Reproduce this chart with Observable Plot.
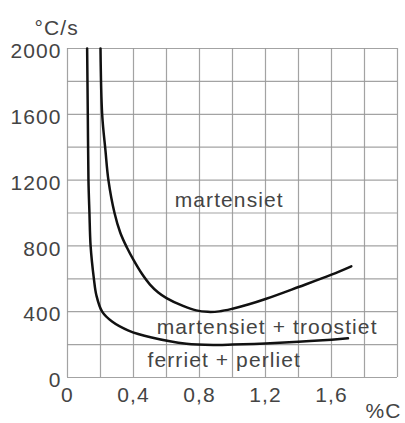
<!DOCTYPE html>
<html>
<head>
<meta charset="utf-8">
<script src="https://cdn.jsdelivr.net/npm/d3@7"></script>
<script src="https://cdn.jsdelivr.net/npm/@observablehq/plot@0.6"></script>
<style>
  html, body { margin: 0; padding: 0; background: #fff; }
  svg text { letter-spacing: 1.1px; }
</style>
</head>
<body>
<div id="chart"></div>
<script>
// Lower boundary: ferriet + perliet / martensiet + troostiet
const lowerC    = [0.119, 0.123, 0.127, 0.133, 0.14, 0.16, 0.175, 0.21, 0.27, 0.37, 0.51, 0.72, 0.9, 1.0, 1.2, 1.4, 1.6, 1.7];
const lowerRate = [2000, 1600, 1200, 1000, 800, 600, 500, 400, 340, 285, 243, 205, 198, 200, 207, 217, 230, 238];

// Upper boundary: martensiet + troostiet / martensiet
const upperC    = [0.2, 0.21, 0.23, 0.248, 0.285, 0.32, 0.36, 0.4, 0.45, 0.5, 0.55, 0.6, 0.7, 0.78, 0.85, 0.92, 1.0, 1.1, 1.2, 1.4, 1.6, 1.72];
const upperRate = [2000, 1600, 1380, 1200, 1000, 880, 790, 715, 632, 565, 517, 483, 435, 408, 399, 402, 418, 445, 477, 550, 625, 676];

// Region labels
const regionNames = ["martensiet", "martensiet + troostiet", "ferriet + perliet"];
const regionC     = [0.98, 1.21, 0.95];
const regionRate  = [1076, 304, 103];

const xTicks = [0, 0.4, 0.8, 1.2, 1.6];
const yTicks = [0, 400, 800, 1200, 1600, 2000];
const xGrid = d3.range(0, 2.0001, 0.2);
const yGrid = d3.range(0, 2001, 200);
const yTitle = "°C/s";
const xTitle = "%C";

const lower = lowerC.map((c, i) => ({c, r: lowerRate[i]}));
const upper = upperC.map((c, i) => ({c, r: upperRate[i]}));
const regions = regionNames.map((name, i) => ({name, c: regionC[i], r: regionRate[i]}));

const font = "Liberation Sans, Arial, sans-serif";
const fs = 21;
const ink = "#444";
const fmtX = d => String(d).replace(".", ",");
const fmtY = d => String(d);

const chart = Plot.plot({
  width: 405,
  height: 423,
  marginLeft: 67,
  marginRight: 8,
  marginTop: 48,
  marginBottom: 46,
  style: {fontFamily: font, fontSize: fs + "px", color: ink, background: "#fff", overflow: "visible"},
  x: {domain: [0, 2]},
  y: {domain: [0, 2000]},
  marks: [
    Plot.gridX(xGrid, {stroke: "#999", strokeOpacity: 0.9, strokeWidth: 1.2}),
    Plot.gridY(yGrid, {stroke: "#999", strokeOpacity: 0.9, strokeWidth: 1.2}),
    Plot.axisX(xTicks, {tickSize: 0, tickPadding: 10, tickFormat: fmtX, fontSize: fs, fill: ink, label: null}),
    Plot.axisY(yTicks, {tickSize: 0, tickPadding: 6, tickFormat: fmtY, fontSize: fs, fill: ink, label: null, dy: 3}),
    Plot.line(lower, {x: "c", y: "r", curve: "catmull-rom", stroke: "#111", strokeWidth: 2.5}),
    Plot.line(upper, {x: "c", y: "r", curve: "catmull-rom", stroke: "#111", strokeWidth: 2.5}),
    Plot.text(regions, {x: "c", y: "r", text: "name", fontSize: fs, fill: ink, fontFamily: font}),
    Plot.text([yTitle], {frameAnchor: "top-left", text: d => d, textAnchor: "start", dx: -33, dy: -28,
      fontSize: fs, fill: ink, fontFamily: font}),
    Plot.text([xTitle], {frameAnchor: "bottom-right", text: d => d, textAnchor: "end", dx: 4, dy: 40,
      fontSize: fs, fill: ink, fontFamily: font})
  ]
});
document.getElementById("chart").appendChild(chart);
</script>
</body>
</html>
